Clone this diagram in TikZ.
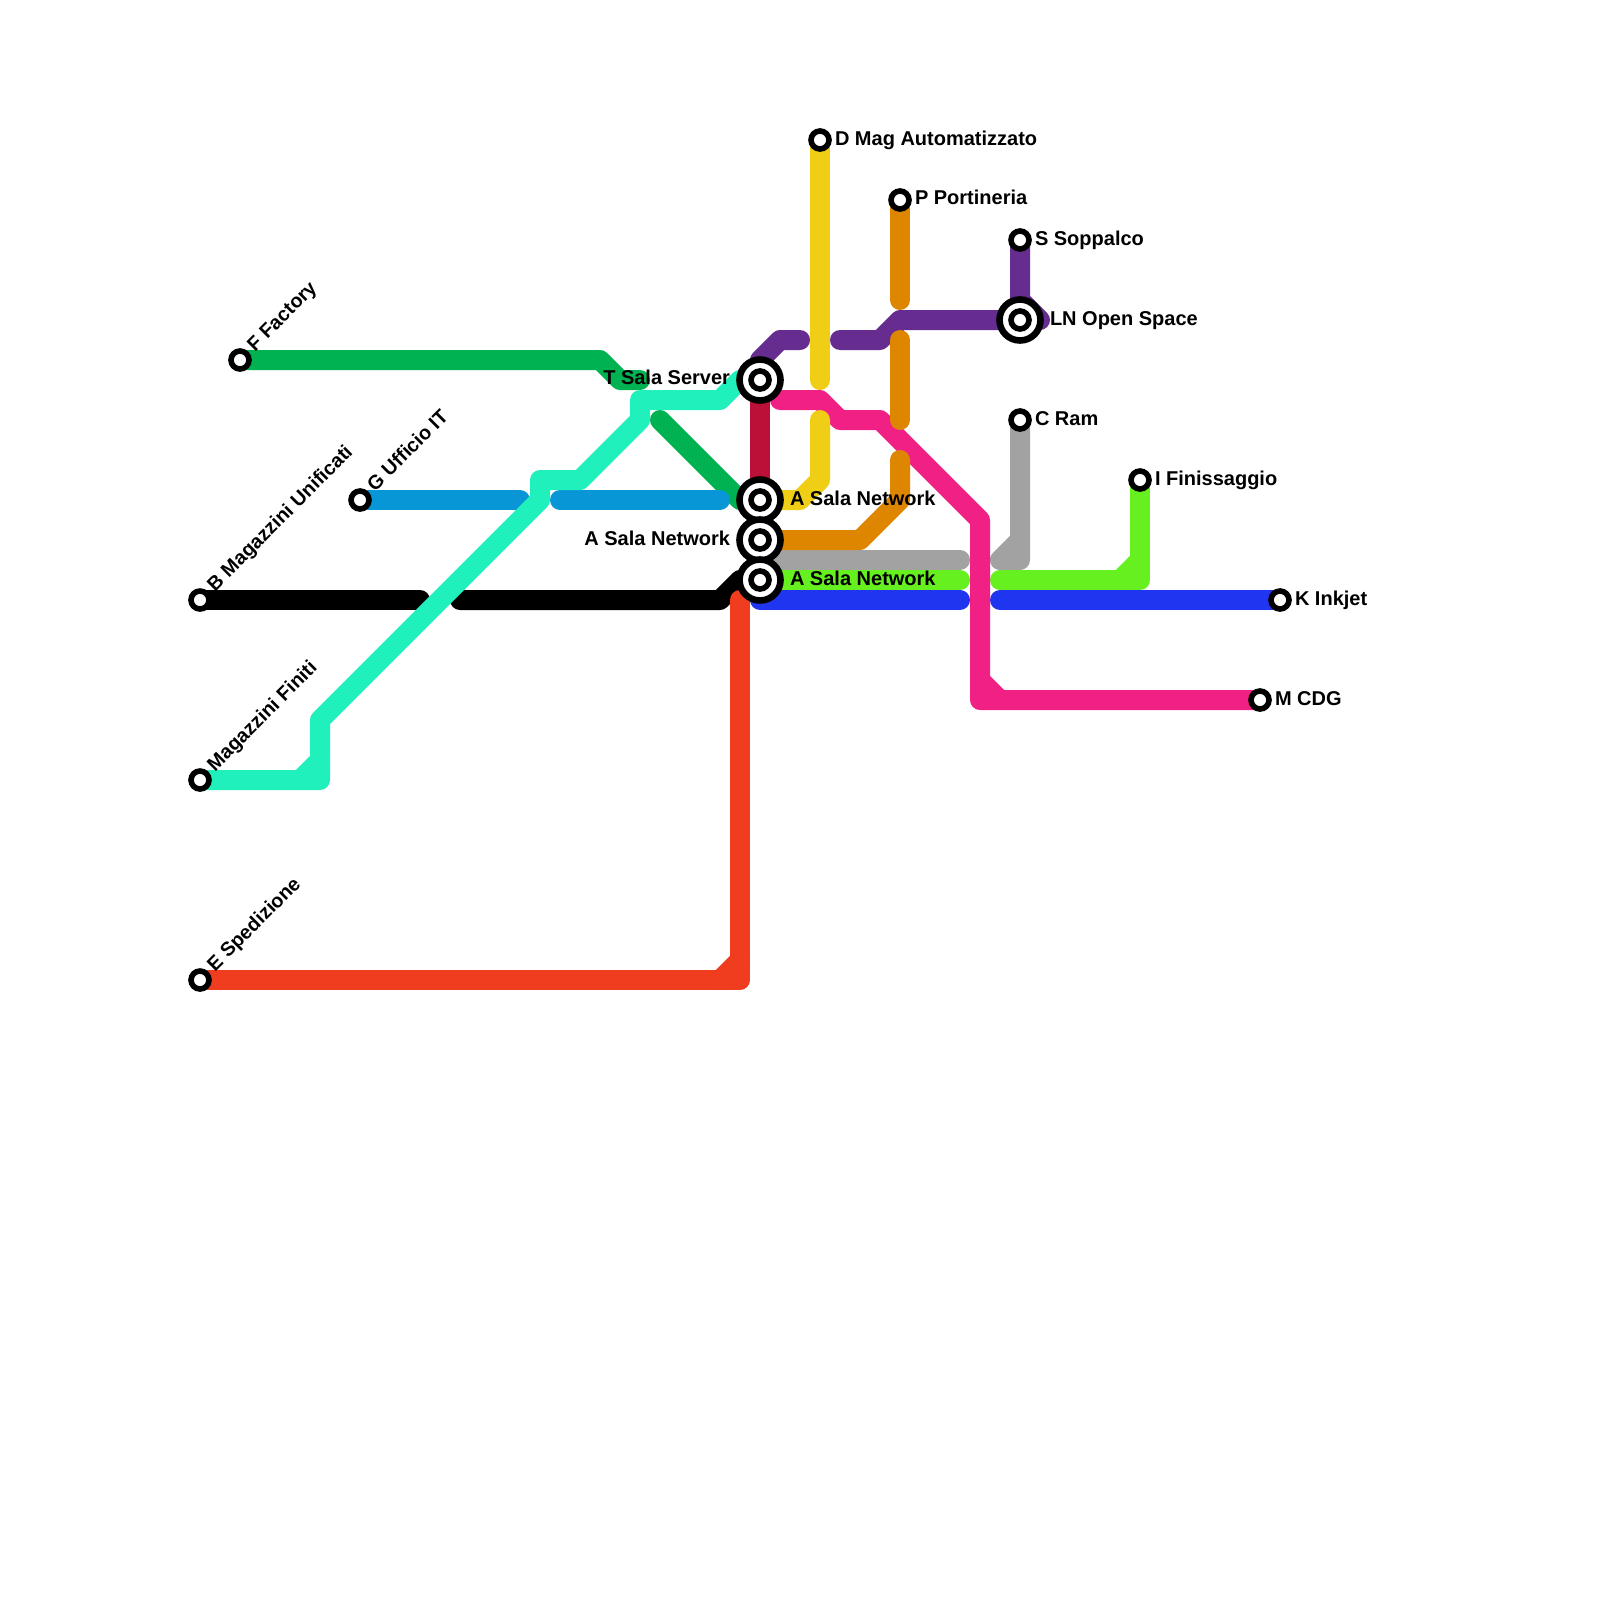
\documentclass[tikz,border=0pt]{standalone}
\usepackage{fontspec}
\setmainfont{Liberation Sans}
\definecolor{cEmerald}{HTML}{00B251}
\definecolor{cTurq}{HTML}{1FF0BC}
\definecolor{cSky}{HTML}{0896D7}
\definecolor{cRed}{HTML}{F03D20}
\definecolor{cCrimson}{HTML}{BD1038}
\definecolor{cPurple}{HTML}{662C90}
\definecolor{cYellow}{HTML}{F0CE15}
\definecolor{cOrange}{HTML}{DF8600}
\definecolor{cPink}{HTML}{F12085}
\definecolor{cGrey}{HTML}{A2A2A2}
\definecolor{cLime}{HTML}{66F01F}
\definecolor{cBlue}{HTML}{1F35F0}
\tikzset{
  metro/.style={line width=20pt,line cap=round,line join=round},
  stop/.style={circle,draw=black,fill=white,line width=5.6pt,minimum size=18pt,inner sep=0pt,outer sep=0pt},
  hub/.style={circle,draw=black,fill=white,line width=6.6pt,minimum size=41pt,inner sep=0pt,outer sep=0pt},
  lbl/.style={font=\fontsize{20}{24}\selectfont\bfseries,text=black,inner sep=0pt,outer sep=0pt},
  rlbl/.style={lbl,anchor=base west},
  llbl/.style={lbl,anchor=base east},
  dlbl/.style={font=\fontsize{19.7}{24}\selectfont\bfseries,text=black,inner sep=0pt,outer sep=0pt,anchor=base west,rotate=45}
}
\begin{document}
\begin{tikzpicture}[x=1pt,y=-1pt]
\useasboundingbox[fill=white] (0,0) rectangle (1600,1600);
% station positions
\coordinate (pF) at (240,360);
\coordinate (pG) at (360,500);
\coordinate (pB) at (200,600);
\coordinate (pMF) at (200,780);
\coordinate (pE) at (200,980);
\coordinate (pT) at (760,380);
\coordinate (pA1) at (760,500);
\coordinate (pA2) at (760,540);
\coordinate (pA3) at (760,580);
\coordinate (pD) at (820,140);
\coordinate (pP) at (900,200);
\coordinate (pS) at (1020,240);
\coordinate (pLN) at (1020,320);
\coordinate (pC) at (1020,420);
\coordinate (pI) at (1140,480);
\coordinate (pK) at (1280,600);
\coordinate (pM) at (1260,700);
% lines
\draw[metro,cEmerald] (pF) -- (600,360) -- (620,380) -- (640,380);
\draw[metro,cEmerald] (660,420) -- (740,500) -- (pA1);
\draw[metro,black] (pB) -- (420,600);
\draw[metro,black] (460,600) -- (720,600) -- (740,580) -- (pA3);
\draw[metro,cSky] (pG) -- (520,500);
\draw[metro,cSky] (560,500) -- (720,500);
\draw[metro,cTurq] (pMF) -- (320,780) -- (320,720) -- (540,500) -- (540,480) -- (580,480) -- (640,420) -- (640,400) -- (720,400) -- (740,380) -- (pT);
\draw[metro,cTurq] (300,780) -- (320,760);
\draw[metro,cRed] (pE) -- (740,980) -- (740,600);
\draw[metro,cRed] (720,980) -- (740,960);
\draw[metro,cCrimson] (pT) -- (pA1);
\draw[metro,cPurple] (pT) -- (760,360) -- (780,340) -- (800,340);
\draw[metro,cPurple] (840,340) -- (880,340) -- (900,320) -- (pLN);
\draw[metro,cPurple] (pS) -- (1020,300) -- (1040,320);
\draw[metro,cGrey] (pA2) ++(0,20) -- (960,560);
\draw[metro,cGrey] (pC) -- (1020,560) -- (1000,560) -- (1020,540);
\draw[metro,cLime] (pA3) -- (960,580);
\draw[metro,cLime] (1000,580) -- (1140,580) -- (pI);
\draw[metro,cLime] (1120,580) -- (1140,560);
\draw[metro,cBlue] (760,600) -- (960,600);
\draw[metro,cBlue] (1000,600) -- (pK);
\draw[metro,cPink] (780,400) -- (820,400) -- (840,420) -- (880,420) -- (980,520) -- (980,700) -- (pM);
\draw[metro,cPink] (980,680) -- (1000,700);
\draw[metro,cYellow] (pD) -- (820,380);
\draw[metro,cYellow] (820,420) -- (820,480) -- (800,500) -- (pA1);
\draw[metro,cOrange] (pP) -- (900,300);
\draw[metro,cOrange] (900,340) -- (900,420);
\draw[metro,cOrange] (900,460) -- (900,500) -- (860,540) -- (pA2);
% stations
\node[stop] (sF) at (pF) {};
\node[stop] (sG) at (pG) {};
\node[stop] (sB) at (pB) {};
\node[stop] (sMF) at (pMF) {};
\node[stop] (sE) at (pE) {};
\node[stop] (sD) at (pD) {};
\node[stop] (sP) at (pP) {};
\node[stop] (sS) at (pS) {};
\node[stop] (sC) at (pC) {};
\node[stop] (sI) at (pI) {};
\node[stop] (sK) at (pK) {};
\node[stop] (sM) at (pM) {};
\node[hub] (hT) at (pT) {};
\node[stop] (sT) at (pT) {};
\node[hub] (hA1) at (pA1) {};
\node[stop] (sA1) at (pA1) {};
\node[hub] (hA2) at (pA2) {};
\node[stop] (sA2) at (pA2) {};
\node[hub] (hA3) at (pA3) {};
\node[stop] (sA3) at (pA3) {};
\node[hub] (hLN) at (pLN) {};
\node[stop] (sLN) at (pLN) {};
% labels
\node[dlbl] (tF) at (255,352) {F Factory};
\node[dlbl] (tG) at (375,492) {G Ufficio IT};
\node[dlbl] (tB) at (215,592) {B Magazzini Unificati};
\node[dlbl] (tMF) at (215,772) {Magazzini Finiti};
\node[dlbl] (tE) at (215,972) {E Spedizione};
\node[rlbl] (tD) at (835,146) {D Mag Automatizzato};
\node[rlbl] (tP) at (915,204) {P Portineria};
\node[rlbl] (tS) at (1035,245) {S Soppalco};
\node[rlbl] (tLN) at (1050,325) {LN Open Space};
\node[rlbl] (tC) at (1035,425) {C Ram};
\node[rlbl] (tI) at (1155,485) {I Finissaggio};
\node[rlbl] (tK) at (1295,605) {K Inkjet};
\node[rlbl] (tM) at (1275,705) {M CDG};
\node[llbl] (tT) at (730,384) {T Sala Server};
\node[rlbl] (tA1) at (790,505) {A Sala Network};
\node[llbl] (tA2) at (730,545) {A Sala Network};
\node[rlbl] (tA3) at (790,585) {A Sala Network};
\end{tikzpicture}
\end{document}
